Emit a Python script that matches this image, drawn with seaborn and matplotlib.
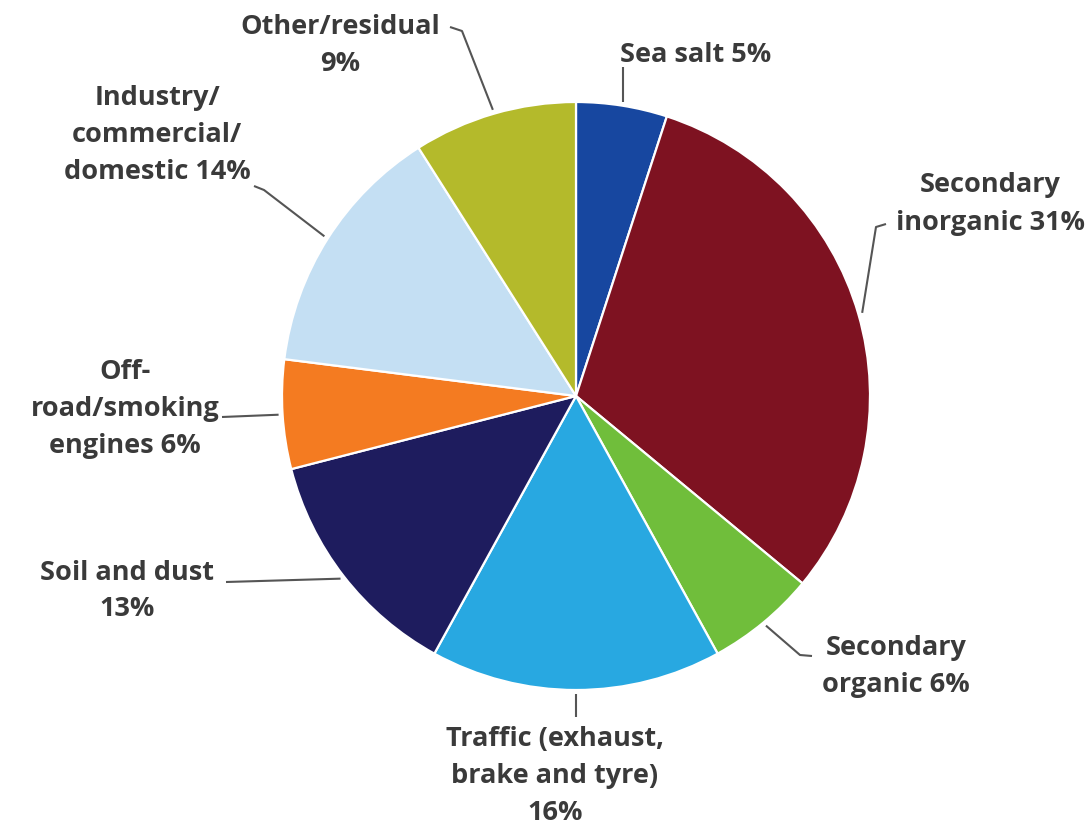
import numpy as np
import matplotlib
matplotlib.use("Agg")
import matplotlib.pyplot as plt
import seaborn as sns

# Source apportionment shares (%), clockwise from 12 o'clock
sources = [
    "Sea salt", "Secondary inorganic", "Secondary organic",
    "Traffic (exhaust, brake and tyre)", "Soil and dust",
    "Off-road/smoking engines", "Industry/commercial/domestic",
    "Other/residual",
]
shares = [5, 31, 6, 16, 13, 6, 14, 9]
labels = [
    "Sea salt 5%",
    "Secondary\ninorganic 31%",
    "Secondary\norganic 6%",
    "Traffic (exhaust,\nbrake and tyre)\n16%",
    "Soil and dust\n13%",
    "Off-\nroad/smoking\nengines 6%",
    "Industry/\ncommercial/\ndomestic 14%",
    "Other/residual\n9%",
]
colors = ["#1747a0", "#7e1221", "#70be3b", "#28a8e1",
          "#1e1c5e", "#f47b21", "#c4dff3", "#b4ba2b"]

sns.set_theme(style="white")
plt.rcParams["font.family"] = ["Open Sans", "DejaVu Sans"]

W, H = 1085, 829
fig = plt.figure(figsize=(W / 100, H / 100), dpi=100)
ax = fig.add_axes([0, 0, 1, 1])

cx, cy, R = 576, H - 397, 294
palette = sns.color_palette(colors)
wedges, _ = ax.pie(shares, colors=palette, startangle=90, counterclock=False,
                   center=(cx, cy), radius=R, frame=True,
                   wedgeprops=dict(edgecolor="white", linewidth=1.6))
ax.set_xlim(0, W)
ax.set_ylim(0, H)
ax.set_aspect("equal")
ax.axis("off")

def px(x, y):
    return (x, H - y)

# label placement (pixel centre, alignment) and leader elbow points
layout = [
    dict(pos=(620, 55), ha="left", path=[(612, 68)], vertical=True),
    dict(pos=(990, 204), ha="center", path=[(876, 228), (886, 225)]),
    dict(pos=(896, 667), ha="center", path=[(800, 656), (812, 657)]),
    dict(pos=(555, 776), ha="center", path=[(576, 718)]),
    dict(pos=(127, 591), ha="center", path=[(226, 583)]),
    dict(pos=(125, 409), ha="center", path=[(222, 418)]),
    dict(pos=(157, 135), ha="center", path=[(264, 191), (254, 187)]),
    dict(pos=(340, 45), ha="center", path=[(462, 32), (450, 28)]),
]

for w, lab, lay in zip(wedges, labels, layout):
    mid = np.deg2rad((w.theta1 + w.theta2) / 2)
    ax_ = cx + (R + 4) * np.cos(mid)
    ay_ = cy + (R + 4) * np.sin(mid)
    pts = [(ax_, ay_)]
    for (x, y) in lay["path"]:
        if lay.get("vertical"):
            pts.append((ax_, H - y))
        else:
            pts.append(px(x, y))
    xs, ys = zip(*pts)
    ax.plot(xs, ys, color="#555555", lw=1.5, solid_capstyle="butt")
    tx, ty = px(*lay["pos"])
    ax.text(tx, ty, lab, ha=lay["ha"], va="center", fontsize=19.5,
            fontweight="bold", color="#3a3a3a", linespacing=1.55)

fig.savefig("out.png", dpi=100, facecolor="white")
